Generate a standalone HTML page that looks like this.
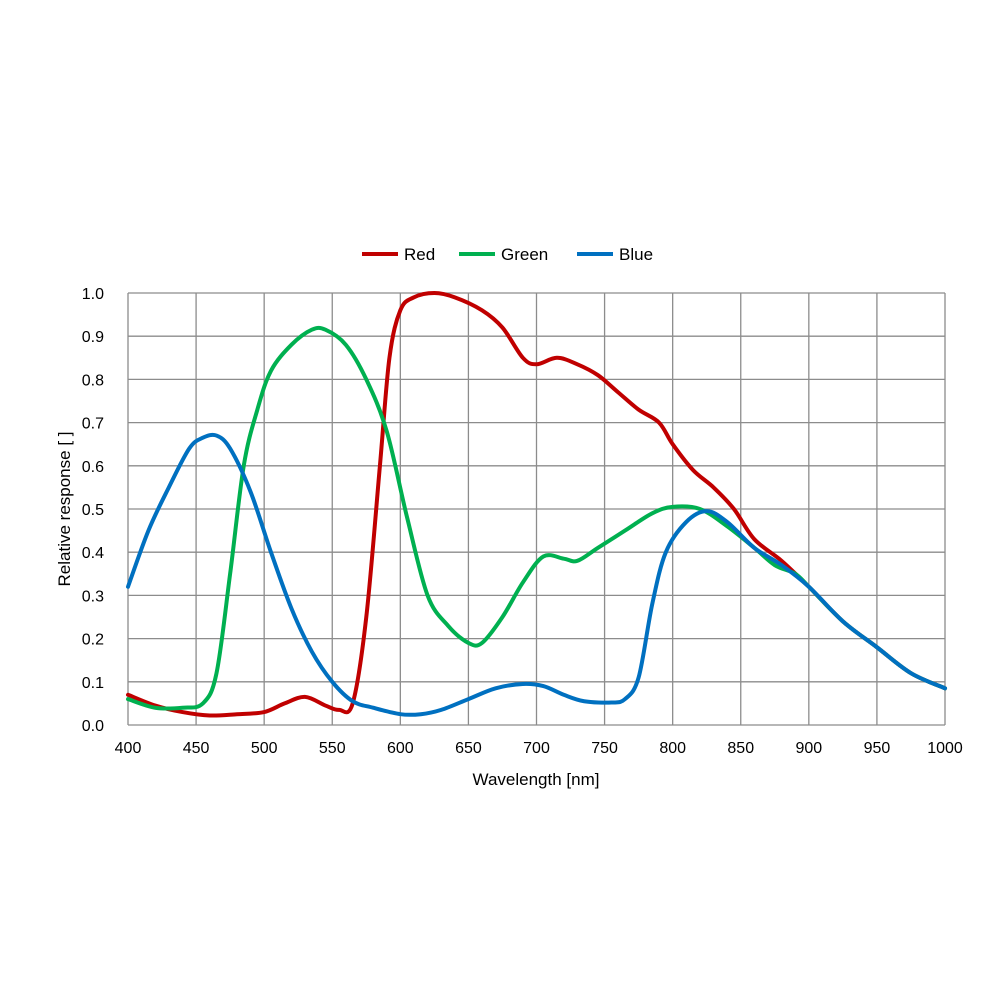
<!DOCTYPE html>
<html><head><meta charset="utf-8"><style>
html,body{margin:0;padding:0;background:#fff;width:1000px;height:1000px;overflow:hidden}
text{font-family:"Liberation Sans",Arial,sans-serif;fill:#000}
</style></head><body>
<svg id="s" width="1000" height="1000" xmlns="http://www.w3.org/2000/svg">
<g id="grid" stroke="#8c8c8c" stroke-width="1.3"></g>
<g id="labels" font-size="16"></g>
<text x="536" y="785" font-size="17" text-anchor="middle">Wavelength [nm]</text>
<text transform="translate(70,509) rotate(-90)" font-size="17" text-anchor="middle">Relative response [ ]</text>
<line x1="362" y1="254" x2="398" y2="254" stroke="#c00000" stroke-width="4"/>
<text x="404" y="260" font-size="17">Red</text>
<line x1="459" y1="254" x2="495" y2="254" stroke="#00b050" stroke-width="4"/>
<text x="501" y="260" font-size="17">Green</text>
<line x1="577" y1="254" x2="613" y2="254" stroke="#0070c0" stroke-width="4"/>
<text x="619" y="260" font-size="17">Blue</text>
<g id="curves" fill="none" stroke-width="4" stroke-linejoin="round" stroke-linecap="round"></g>
</svg>
<script>
var X=function(n){return 128+(n-400)*817/600},Y=function(v){return 725-v*432};
var g=document.getElementById('grid'),l=document.getElementById('labels'),ns='http://www.w3.org/2000/svg';
function el(p,t,a,txt){var e=document.createElementNS(ns,t);for(var k in a)e.setAttribute(k,a[k]);if(txt)e.textContent=txt;p.appendChild(e);return e;}
for(var n=400;n<=1000;n+=50){el(g,'line',{x1:X(n),x2:X(n),y1:Y(0),y2:Y(1)});el(l,'text',{x:X(n),y:753,'text-anchor':'middle'},''+n);}
for(var i=0;i<=10;i++){el(g,'line',{x1:X(400),x2:X(1000),y1:Y(i/10),y2:Y(i/10)});el(l,'text',{x:104,y:Y(i/10)+6,'text-anchor':'end'},(i/10).toFixed(1));}
var tail=[[900,.32],[925,.24],[950,.18],[975,.12],[1000,.085]];
var R=[[400,.07],[420,.045],[440,.03],[460,.022],[480,.025],[500,.03],[515,.05],[530,.065],[545,.045],[555,.035],[565,.05],[575,.25],[585,.6],[592,.85],[600,.96],[610,.99],[625,1.0],[640,.99],[660,.96],[675,.92],[690,.85],[700,.835],[715,.85],[730,.835],[745,.81],[760,.77],[775,.73],[790,.7],[800,.65],[815,.59],[830,.55],[845,.5],[860,.43],[880,.38]].concat(tail);
var G=[[400,.06],[420,.04],[440,.04],[455,.05],[465,.12],[475,.35],[485,.6],[495,.73],[505,.82],[520,.88],[535,.915],[545,.915],[560,.88],[575,.8],[590,.68],[605,.48],[620,.3],[635,.23],[650,.19],[660,.19],[675,.25],[690,.33],[705,.39],[720,.385],[730,.38],[745,.41],[765,.45],[785,.49],[800,.505],[820,.5],[840,.46],[860,.41],[875,.37],[890,.35]].concat(tail);
var B=[[400,.32],[415,.45],[430,.55],[445,.64],[455,.665],[465,.67],[475,.64],[490,.54],[505,.4],[520,.27],[535,.17],[550,.1],[565,.055],[580,.04],[600,.025],[615,.025],[630,.035],[650,.06],[670,.085],[690,.095],[705,.09],[720,.07],[735,.055],[755,.052],[765,.06],[775,.11],[785,.28],[795,.4],[810,.47],[825,.495],[840,.47],[860,.41],[880,.37]].concat(tail);
function path(d){var p=d.map(function(a){return [X(a[0]),Y(a[1])]});var s='M'+p[0][0]+','+p[0][1];
for(var i=0;i<p.length-1;i++){var p0=p[i-1]||p[i],p1=p[i],p2=p[i+1],p3=p[i+2]||p2;
s+='C'+(p1[0]+(p2[0]-p0[0])/6)+','+(p1[1]+(p2[1]-p0[1])/6)+' '+(p2[0]-(p3[0]-p1[0])/6)+','+(p2[1]-(p3[1]-p1[1])/6)+' '+p2[0]+','+p2[1];}return s;}
var c=document.getElementById('curves');
el(c,'path',{d:path(R),stroke:'#c00000'});
el(c,'path',{d:path(G),stroke:'#00b050'});
el(c,'path',{d:path(B),stroke:'#0070c0'});
</script>
</body></html>
